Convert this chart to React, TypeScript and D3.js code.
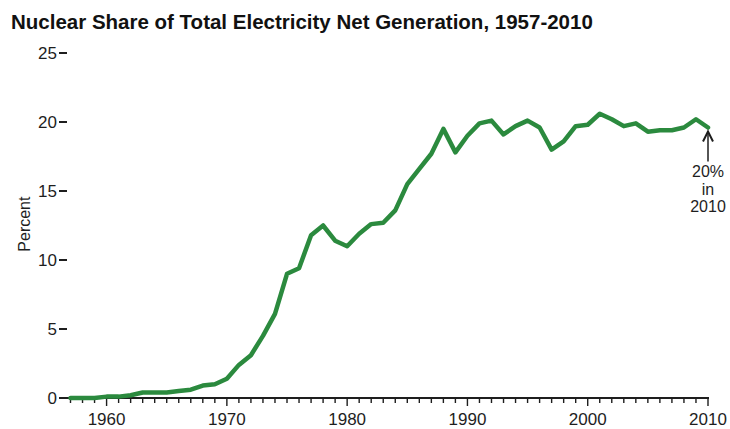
import * as d3 from 'd3';

const years = d3.range(1957, 2011);
const nuclearShare = [
  0.0, 0.0, 0.0, 0.1, 0.1, 0.2, 0.4, 0.4, 0.4, 0.5,
  0.6, 0.9, 1.0, 1.4, 2.4, 3.1, 4.5, 6.1, 9.0, 9.4,
  11.8, 12.5, 11.4, 11.0, 11.9, 12.6, 12.7, 13.6, 15.5, 16.6,
  17.7, 19.5, 17.8, 19.0, 19.9, 20.1, 19.1, 19.7, 20.1, 19.6,
  18.0, 18.6, 19.7, 19.8, 20.6, 20.2, 19.7, 19.9, 19.3, 19.4,
  19.4, 19.6, 20.2, 19.6,
];
const yTicks = [0, 5, 10, 15, 20, 25];
const xLabels = [1960, 1970, 1980, 1990, 2000, 2010];
const noteLines = ['20%', 'in', '2010'];

const WIDTH = 730;
const HEIGHT = 429;
const FONT = 'Liberation Sans, Arial, sans-serif';
const INK = '#1e1e1e';

export default function App() {
  // roughly 12px per year, 2010 tick sits at 708
  const xScale = d3.scaleLinear().domain([1957, 2010]).range([70.5, 708]);
  const yScale = d3.scaleLinear().domain([0, 25]).range([398, 53]);

  const data = years.map((yr, i) => ({ yr, v: nuclearShare[i] }));
  const line = d3
    .line<{ yr: number; v: number }>()
    .x(d => xScale(d.yr))
    .y(d => yScale(d.v));

  const last = data[data.length - 1];
  const ax = xScale(last.yr);
  const ay = yScale(last.v);

  return (
    <svg
      width={WIDTH}
      height={HEIGHT}
      style={{ position: 'absolute', left: 0, top: 0, background: '#fff' }}
      fontFamily={FONT}
    >
      <text x={11} y={29} fontSize={20.5} fontWeight="bold" fill="#111">
        Nuclear Share of Total Electricity Net Generation, 1957-2010
      </text>

      {/* y axis: dash ticks only, no axis line */}
      {yTicks.map(t => (
        <g key={t}>
          <line x1={59} x2={67} y1={yScale(t)} y2={yScale(t)} stroke={INK} strokeWidth={2} />
          <text
            x={57}
            y={yScale(t)}
            textAnchor="end"
            dominantBaseline="central"
            fontSize={17}
            fill={INK}
          >
            {t}
          </text>
        </g>
      ))}
      <text
        transform={`translate(30,${yScale(12.6)}) rotate(-90)`}
        textAnchor="middle"
        fontSize={16}
        fill={INK}
      >
        Percent
      </text>

      {/* x axis */}
      <line x1={64} x2={xScale(2010) + 1} y1={yScale(0)} y2={yScale(0)} stroke={INK} strokeWidth={2} />
      {years.map(yr => (
        <line
          key={yr}
          x1={xScale(yr)}
          x2={xScale(yr)}
          y1={yScale(0)}
          y2={yScale(0) + (yr % 10 === 0 ? 8 : 5)}
          stroke={INK}
          strokeWidth={1.4}
        />
      ))}
      {xLabels.map(yr => (
        <text key={yr} x={xScale(yr)} y={425} textAnchor="middle" fontSize={17} fill={INK}>
          {yr}
        </text>
      ))}

      <path
        d={line(data) ?? ''}
        fill="none"
        stroke="#2b8a3e"
        strokeWidth={4.5}
        strokeLinejoin="round"
        strokeLinecap="round"
      />

      {/* annotation arrow pointing at 2010 */}
      <line x1={ax} x2={ax} y1={ay + 34} y2={ay + 5} stroke={INK} strokeWidth={1.5} />
      <path
        d={`M${ax - 5},${ay + 14} L${ax},${ay + 4} L${ax + 5},${ay + 14}`}
        fill="none"
        stroke={INK}
        strokeWidth={2}
      />
      {noteLines.map((s, i) => (
        <text key={s} x={ax} y={177 + i * 17.5} textAnchor="middle" fontSize={16} fill={INK}>
          {s}
        </text>
      ))}
    </svg>
  );
}
